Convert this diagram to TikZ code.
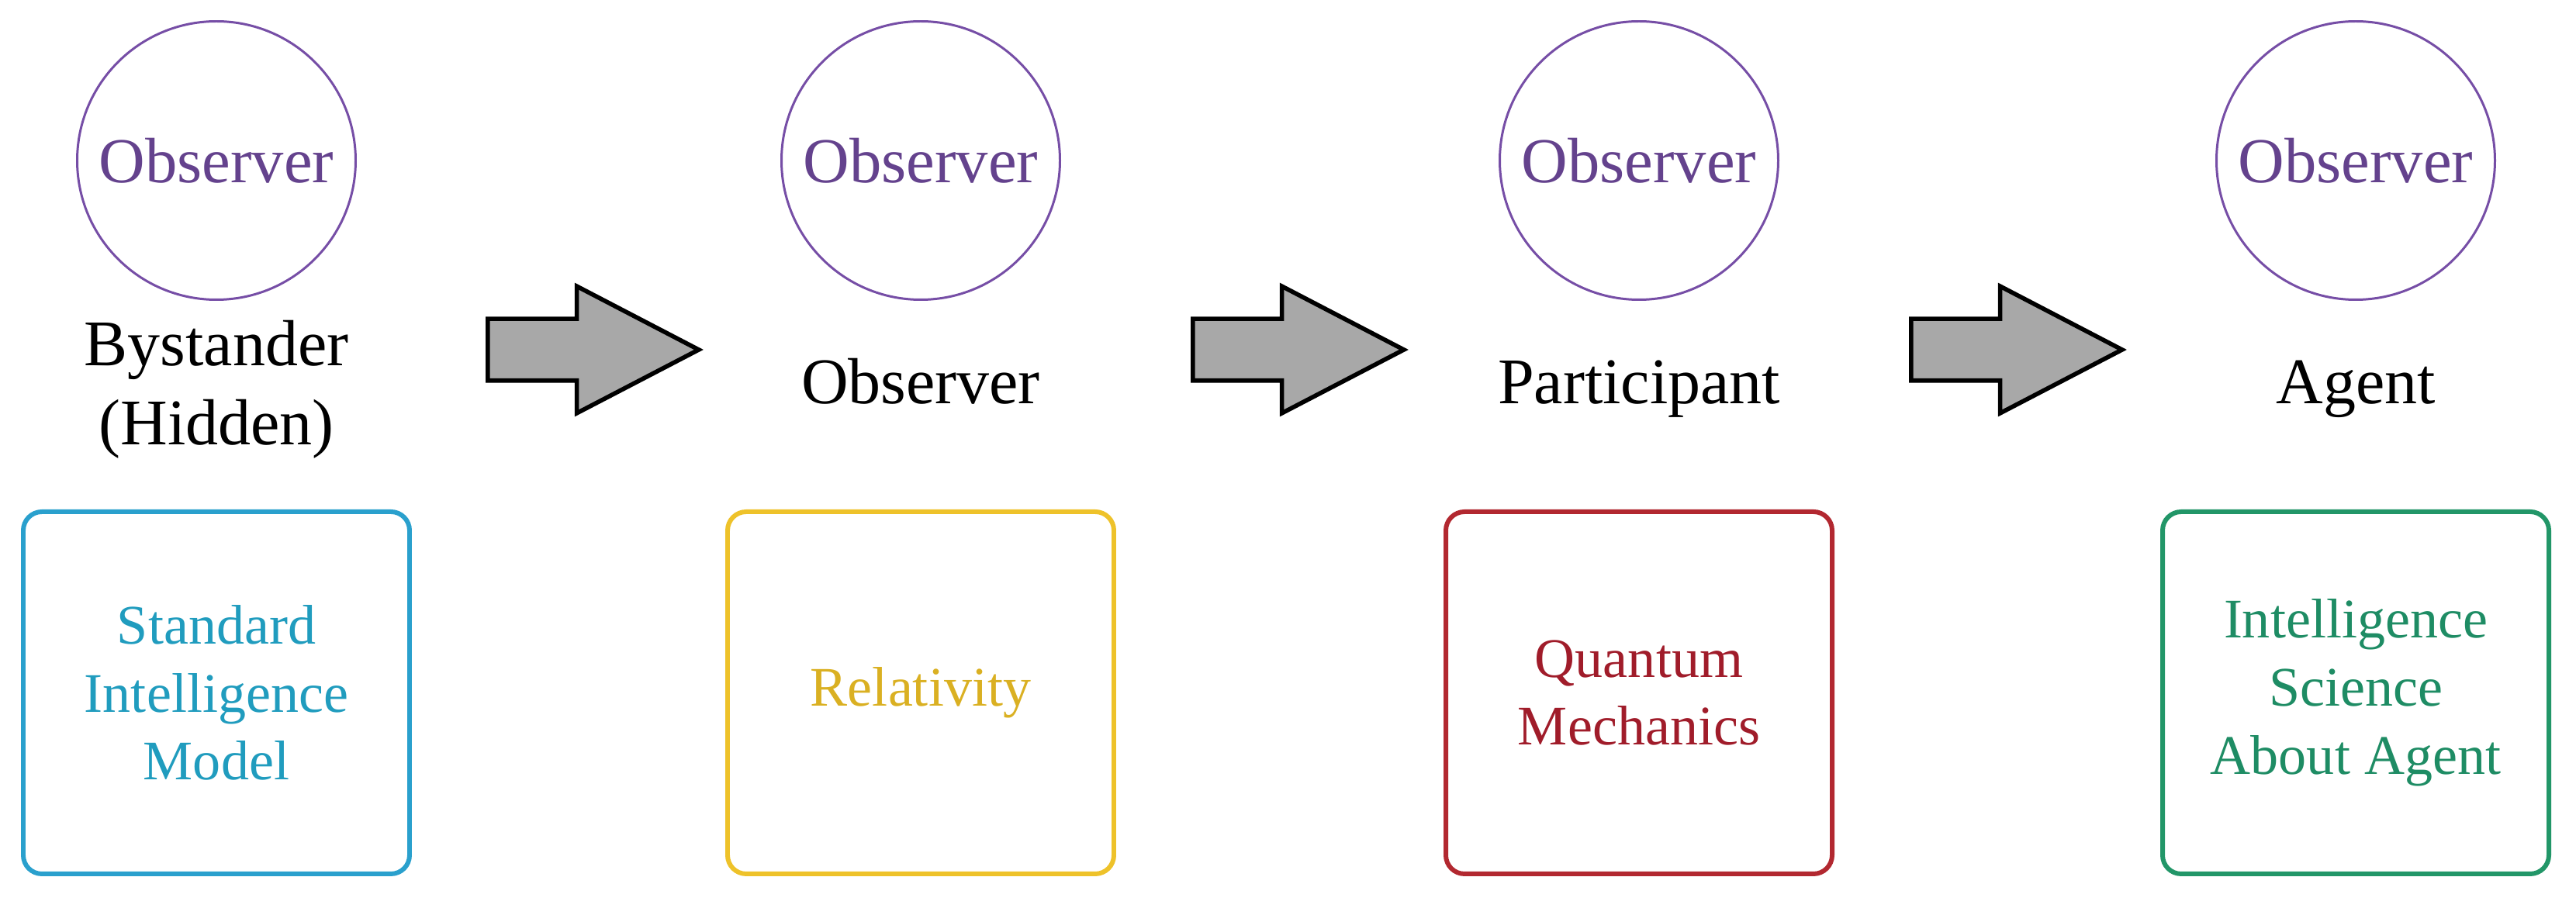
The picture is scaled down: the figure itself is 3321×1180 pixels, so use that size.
\documentclass[tikz,border=0pt]{standalone}
\usepackage{fontspec}
\setmainfont{Liberation Serif}
\usetikzlibrary{positioning, shapes.arrows}

\definecolor{obsPurple}{RGB}{118,78,166}
\definecolor{smBlue}{RGB}{42,160,205}
\definecolor{smText}{RGB}{32,156,190}
\definecolor{relGold}{RGB}{238,194,42}
\definecolor{relText}{RGB}{218,176,34}
\definecolor{qmRed}{RGB}{178,40,48}
\definecolor{qmText}{RGB}{160,28,42}
\definecolor{isGreen}{RGB}{34,150,104}
\definecolor{isText}{RGB}{30,140,100}

\begin{document}
\begin{tikzpicture}[
  x=0.1mm, y=-0.1mm,
  observer/.style={
    circle,
    draw=obsPurple,
    line width=0.85pt,
    minimum size=35.9mm,
    inner sep=0pt,
    text=obsPurple!85!black,
    font=\fontsize{23.5}{28}\selectfont
  },
  role/.style={
    align=center,
    inner sep=0pt,
    anchor=base,
    font=\fontsize{23.9}{29.3}\selectfont
  },
  theory/.style={
    rectangle,
    draw,
    rounded corners=2.4mm,
    line width=1.7pt,
    align=center,
    minimum width=49.8mm,
    minimum height=46.7mm,
    inner sep=0pt,
    font=\fontsize{20.5}{25}\selectfont
  },
  blockarrow/.style={
    single arrow,
    draw=black,
    fill=black!34,
    line width=1.6pt,
    minimum height=27.2mm,
    inner xsep=0pt,
    inner ysep=3.7mm,
    single arrow head extend=4.2mm,
    single arrow tip angle=55,
    anchor=tail
  }
]
\useasboundingbox (0,0) rectangle (3321,1180);

% Observer circles (one per stage)
\node[observer] (circA) at (279,207) {Observer};
\node[observer] (circB) at (1187,207) {Observer};
\node[observer] (circC) at (2113,207) {Observer};
\node[observer] (circD) at (3037,207) {Observer};

% Role of the observer
\node[role] (roleA) at (279,574) {Bystander\\(Hidden)};
\node[role] (roleB) at (1187,521) {Observer};
\node[role] (roleC) at (2113,521) {Participant};
\node[role] (roleD) at (3037,521) {Agent};

% Theory boxes
\node[theory, draw=smBlue, text=smText, below=26.9mm of circA] (boxA) {Standard\\Intelligence\\Model};
\node[theory, draw=relGold, text=relText, below=26.9mm of circB] (boxB) {Relativity};
\node[theory, draw=qmRed, text=qmText, below=26.9mm of circC] (boxC) {Quantum\\Mechanics};
\node[theory, draw=isGreen, text=isText, below=26.9mm of circD] (boxD) {Intelligence\\Science\\About Agent};

% Block arrows between stages
\node[blockarrow] (arrAB) at (626,451) {};
\node[blockarrow] (arrBC) at (1535,451) {};
\node[blockarrow] (arrCD) at (2461,451) {};

\end{tikzpicture}
\end{document}
